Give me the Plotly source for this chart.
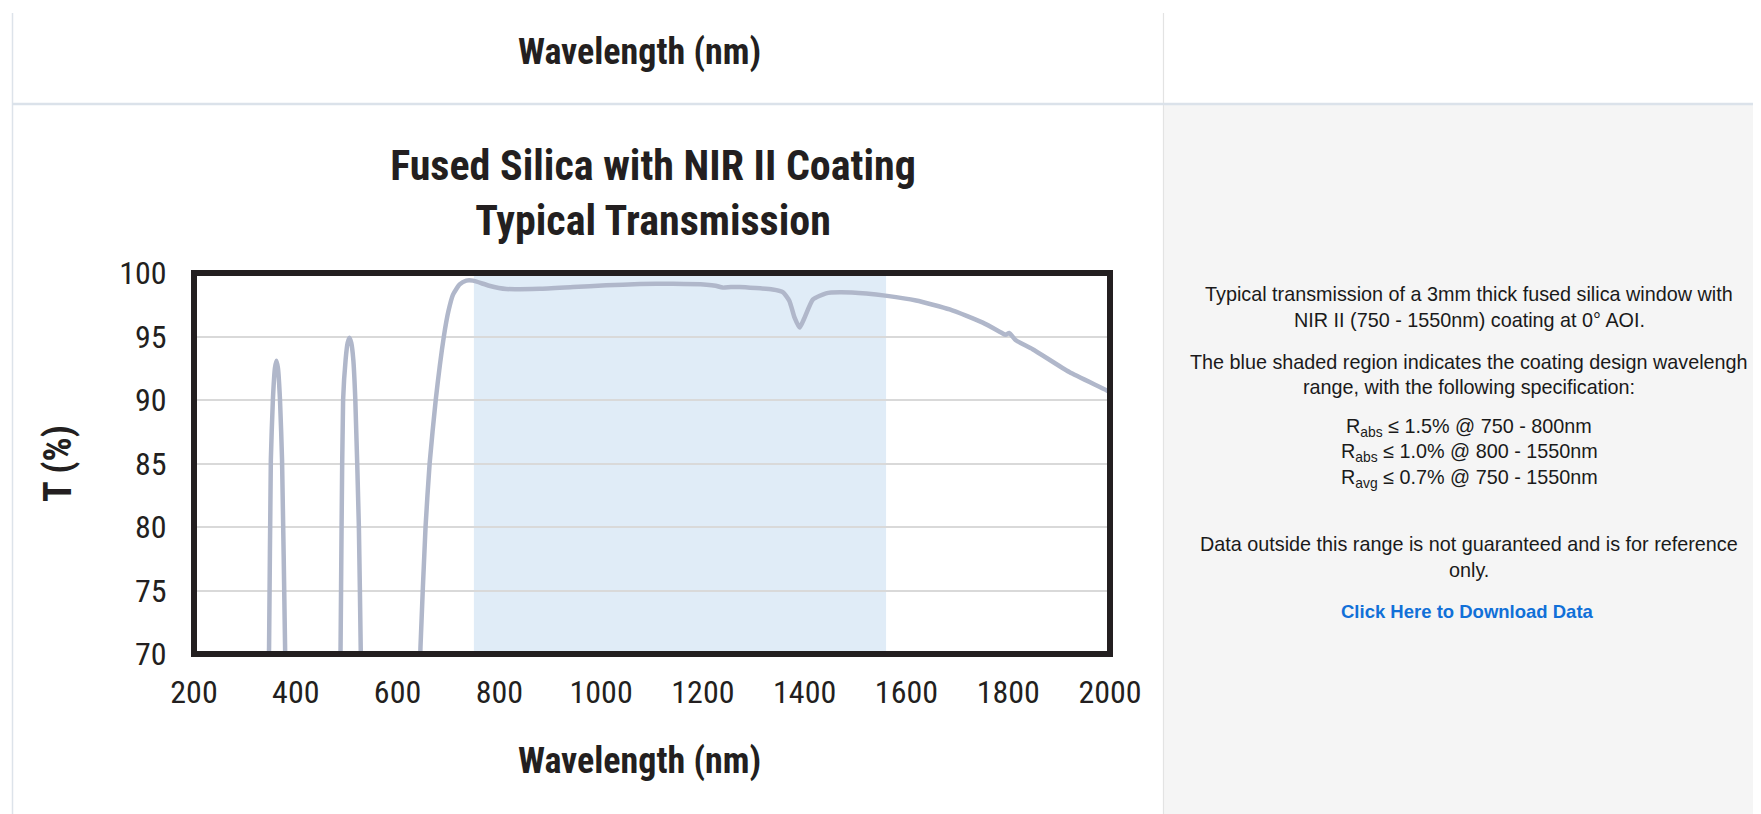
import plotly.graph_objects as go

# ---------------- data ----------------
wavelength_nm = [200, 300, 340, 345, 347.5, 351, 355, 359, 362, 365, 369, 373, 379, 382, 430,
                 485, 488, 490, 493, 498, 502, 505.5, 509, 513, 517, 524, 527.6, 531, 590,
                 640, 645, 655, 663, 675, 691, 700, 709, 722, 735, 748, 780, 814, 879, 945,
                 1010, 1076, 1141, 1207, 1225, 1239, 1255, 1272, 1337, 1357, 1370, 1380, 1390,
                 1400, 1416, 1442, 1469, 1521, 1562, 1619, 1685, 1750, 1785, 1795, 1802, 1815,
                 1848, 1920, 1993, 2000]
transmission_pct = [20, 20, 55, 66, 70.5, 85.3, 90, 92.5, 93.1, 92.5, 90, 85.3, 70.5, 62, 30,
                    62, 70.5, 80, 90, 93.2, 94.5, 94.9, 94.5, 93.2, 90, 80, 70.5, 62, 25,
                    63, 70.5, 80, 85, 90, 95, 97, 98.3, 99.1, 99.4, 99.4, 99.0, 98.74, 98.76, 98.9,
                    99.03, 99.13, 99.15, 99.08, 99.0, 98.85, 98.9, 98.9, 98.7, 98.5, 97.8, 96.5, 95.7,
                    96.5, 97.9, 98.4, 98.48, 98.38, 98.2, 97.83, 97.13, 96.09, 95.34, 95.13, 95.28, 94.7,
                    94.0, 92.2, 90.77, 90.6]

coating_band_nm = [750, 1560]
x_ticks = [200, 400, 600, 800, 1000, 1200, 1400, 1600, 1800, 2000]
y_ticks = [70, 75, 80, 85, 90, 95, 100]

chart_title = "Fused Silica with NIR II Coating<br>Typical Transmission"
header_text = "Wavelength (nm)"
x_title = "Wavelength (nm)"
y_title = "T (%)"
panel_lines = [
    "Typical transmission of a 3mm thick fused silica window with",
    "NIR II (750 - 1550nm) coating at 0° AOI.",
    "The blue shaded region indicates the coating design wavelengh",
    "range, with the following specification:",
    "R<sub>abs</sub> ≤ 1.5% @ 750 - 800nm",
    "R<sub>abs</sub> ≤ 1.0% @ 800 - 1550nm",
    "R<sub>avg</sub> ≤ 0.7% @ 750 - 1550nm",
    "Data outside this range is not guaranteed and is for reference",
    "only.",
]
panel_line_y_px = [294, 320, 362, 387, 427, 452, 478, 544, 570]
link_text = "Click Here to Download Data"

# ---------------- layout geometry (page pixels; page body has an 8px margin) ----------------
OFF = 8
W, H = 1761 - OFF, 814 - OFF
L, R, T, B = 194, 1110, 273, 654


def pxx(x):
    return (x - L) / (R - L)


def pxy(y):
    return (B - y) / (B - T)


NARROW = "Roboto Condensed, Liberation Sans Narrow, DejaVu Sans Condensed, sans-serif"
SANS = "Liberation Sans, Arial, Helvetica, sans-serif"
INK = "#231f20"

fig = go.Figure()
fig.add_trace(go.Scatter(
    x=wavelength_nm, y=transmission_pct, mode="lines",
    line=dict(color="#b0b7ca", width=4.5, shape="spline", smoothing=0.5),
    hoverinfo="x+y", showlegend=False,
))

shapes = [
    dict(type="rect", xref="paper", yref="paper", x0=pxx(1164), x1=pxx(1770),
         y0=pxy(822), y1=pxy(105), fillcolor="#f5f5f5", line=dict(width=0), layer="below"),
    dict(type="line", xref="paper", yref="paper", x0=pxx(12.5), x1=pxx(12.5),
         y0=pxy(13), y1=pxy(822), line=dict(color="#dde3ea", width=1.5), layer="below"),
    dict(type="line", xref="paper", yref="paper", x0=pxx(1163.5), x1=pxx(1163.5),
         y0=pxy(13), y1=pxy(822), line=dict(color="#e3e3e3", width=1.2), layer="below"),
    dict(type="line", xref="paper", yref="paper", x0=pxx(12), x1=pxx(1770),
         y0=pxy(104), y1=pxy(104), line=dict(color="#dbe2ea", width=2.5), layer="below"),
    dict(type="rect", xref="x", yref="paper", x0=coating_band_nm[0], x1=coating_band_nm[1],
         y0=0, y1=1, fillcolor="#e0ecf7", line=dict(width=0), layer="below"),
    dict(type="rect", xref="paper", yref="paper", x0=0, x1=1, y0=0, y1=1,
         line=dict(color=INK, width=6), layer="above"),
]

annotations = [
    dict(text="<b>" + header_text + "</b>", xref="paper", yref="paper",
         x=pxx(639), y=pxy(52), xanchor="center", yanchor="middle", showarrow=False,
         font=dict(family=NARROW, size=36, color=INK)),
    # x-axis title (sits slightly left of the plot centre in the reference)
    dict(text="<b>" + x_title + "</b>", xref="paper", yref="paper",
         x=pxx(639), y=pxy(761), xanchor="center", yanchor="middle", showarrow=False,
         font=dict(family=NARROW, size=36, color=INK)),
]
for txt, ypx in zip(panel_lines, panel_line_y_px):
    annotations.append(dict(text=txt, xref="paper", yref="paper", x=pxx(1469), y=pxy(ypx),
                            xanchor="center", yanchor="middle", showarrow=False,
                            font=dict(family=SANS, size=19.8, color="#1a1a1a")))
annotations.append(dict(text="<b>" + link_text + "</b>", xref="paper", yref="paper",
                        x=pxx(1467), y=pxy(611), xanchor="center", yanchor="middle",
                        showarrow=False, font=dict(family=SANS, size=18.5, color="#1170d8")))

fig.update_layout(
    width=W, height=H,
    margin=dict(l=L - OFF, r=W - (R - OFF), t=T - OFF, b=H - (B - OFF), pad=0),
    paper_bgcolor="white", plot_bgcolor="white",
    title=dict(text="<b>" + chart_title + "</b>", x=(653 - OFF) / W, y=1 - (180 - OFF) / H,
               xanchor="center", yanchor="middle",
               font=dict(family=NARROW, size=42, color=INK)),
    shapes=shapes, annotations=annotations,
    xaxis=dict(range=[200, 2000], tickvals=x_ticks, showgrid=False, zeroline=False,
               showline=False, ticks="outside", ticklen=10, tickcolor="rgba(0,0,0,0)",
               tickfont=dict(family=NARROW, size=32, color=INK)),
    yaxis=dict(range=[70, 100], tickvals=y_ticks, showgrid=True, gridcolor="#d9d9d9",
               gridwidth=1.5, zeroline=False, showline=False, ticks="outside", ticklen=20,
               tickcolor="rgba(0,0,0,0)",
               tickfont=dict(family=NARROW, size=32, color=INK),
               title=dict(text="<b>" + y_title + "</b>", standoff=35,
                          font=dict(family=NARROW, size=38, color=INK))),
)

fig.write_html("out.html")
